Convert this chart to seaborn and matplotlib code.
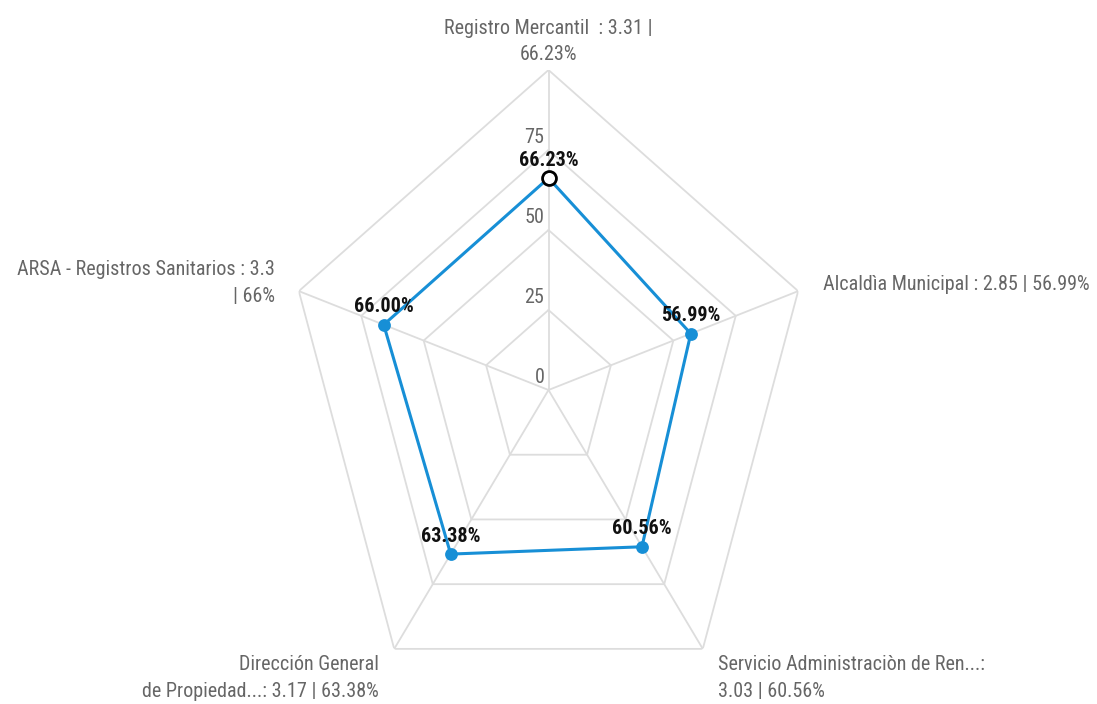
import numpy as np
import pandas as pd
import matplotlib
matplotlib.use("Agg")
import matplotlib.pyplot as plt
import seaborn as sns

# data
categories = ["Registro Mercantil", "Alcaldìa Municipal", "Servicio Administraciòn de Ren...",
              "Dirección General de Propiedad...", "ARSA - Registros Sanitarios"]
scores = [3.31, 2.85, 3.03, 3.17, 3.3]
percents = [66.23, 56.99, 60.56, 63.38, 66.00]
axis_labels = ["Registro Mercantil  : 3.31 |\n66.23%",
               "Alcaldìa Municipal : 2.85 | 56.99%",
               "Servicio Administraciòn de Ren...:\n3.03 | 60.56%",
               "Dirección General\nde Propiedad...: 3.17 | 63.38%",
               "ARSA - Registros Sanitarios : 3.3\n| 66%"]
levels = [0, 25, 50, 75, 100]

sns.set_theme(style="white")
plt.rcParams["font.family"] = ["Roboto Condensed", "DejaVu Sans"]

line_color = "#178fd6"
grid_color = "#dddddd"
label_color = "#666666"

n = len(categories)
theta = np.arange(n) * 2 * np.pi / n
theta_closed = np.append(theta, theta[0])

df = pd.DataFrame({"theta": theta_closed, "pct": percents + [percents[0]]})

fig = plt.figure(figsize=(10.97, 7.04), dpi=100)
ax = fig.add_axes([286 / 1097, -6 / 704, 525 / 1097, 640 / 704], projection="polar")
ax.set_aspect("auto")
ax.set_theta_zero_location("N")
ax.set_theta_direction(-1)
ax.set_ylim(0, 100)
ax.grid(False)
ax.spines["polar"].set_visible(False)
ax.set_xticks([])
ax.set_yticks([])
ax.patch.set_alpha(0)

# pentagon grid
for lv in levels[1:]:
    ax.plot(theta_closed, [lv] * (n + 1), color=grid_color, lw=1.3, zorder=1)
for t in theta:
    ax.plot([t, t], [0, 100], color=grid_color, lw=1.3, zorder=1)

# level labels
for lv in levels[:-1]:
    ax.annotate(str(lv), xy=(0, lv), xytext=(-3, 2), textcoords="offset points",
                ha="right", va="bottom", fontsize=14.5, color=label_color, zorder=2)

# series
sns.lineplot(data=df, x="theta", y="pct", sort=False, estimator=None, ax=ax,
             color=line_color, lw=2.2, zorder=3)
sns.scatterplot(x=theta[1:], y=percents[1:], ax=ax, color=line_color, s=85,
                edgecolor=line_color, linewidth=0, zorder=4)
sns.scatterplot(x=theta[:1], y=percents[:1], ax=ax, color="white", s=100,
                edgecolor="black", linewidth=2, zorder=5)
ax.set_xlabel("")
ax.set_ylabel("")

for t, p in zip(theta, percents):
    ax.annotate(f"{p:.2f}%", xy=(t, p), xytext=(0, 6), textcoords="offset points",
                ha="center", va="bottom", fontsize=14.5, fontweight="bold",
                color="#111111", zorder=6)

# category labels around the outside
placements = [((0, 4), "center", "bottom", "center"),
              ((18, 5), "left", "center", "left"),
              ((11, -21), "left", "center", "left"),
              ((-11, -21), "right", "center", "right"),
              ((-17, 6), "right", "center", "right")]
for t, lab, (off, ha, va, ma) in zip(theta, axis_labels, placements):
    ax.annotate(lab, xy=(t, 100), xytext=off, textcoords="offset points",
                ha=ha, va=va, multialignment=ma, fontsize=14.5, color=label_color,
                linespacing=1.5, annotation_clip=False)

fig.savefig("out.png", dpi=100)
